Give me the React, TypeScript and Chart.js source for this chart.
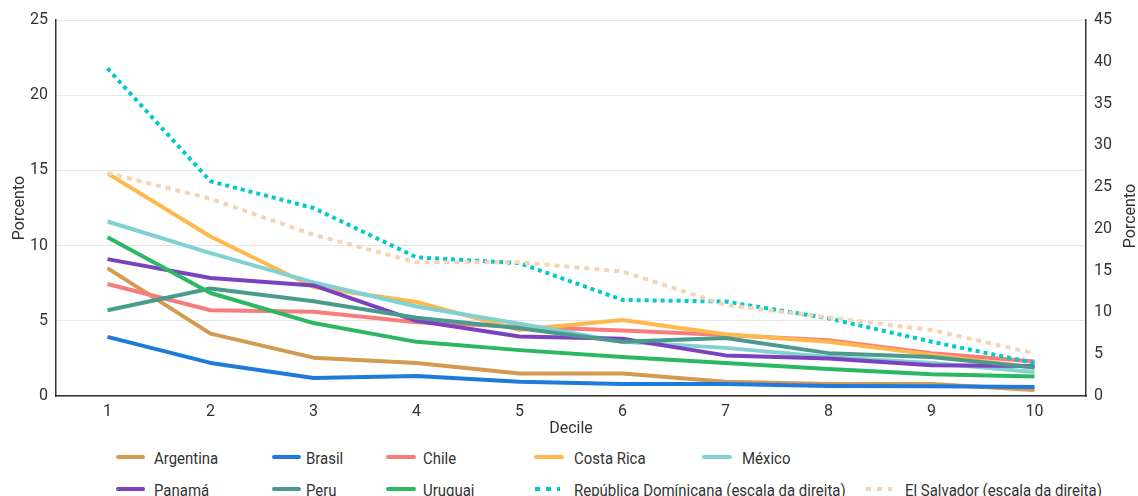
import React, { useEffect, useRef } from 'react';
import { Chart, registerables } from 'chart.js';

Chart.register(...registerables);

if (typeof document !== 'undefined') {
  document.body.style.margin = '0';
}

const FONT = "Roboto, 'DejaVu Sans', sans-serif";

const deciles = ['1', '2', '3', '4', '5', '6', '7', '8', '9', '10'];
const leftTicks = [0, 5, 10, 15, 20, 25];
const rightTicks = [0, 5, 10, 15, 20, 25, 30, 35, 40, 45];

const argentina = [8.5, 4.15, 2.55, 2.2, 1.5, 1.5, 0.95, 0.8, 0.8, 0.4];
const brasil = [3.93, 2.2, 1.2, 1.33, 0.95, 0.8, 0.8, 0.67, 0.65, 0.6];
const chile = [7.45, 5.7, 5.6, 4.9, 4.6, 4.35, 4.05, 3.7, 2.85, 2.3];
const costaRica = [14.8, 10.6, 7.25, 6.25, 4.4, 5.05, 4.1, 3.6, 2.75, 1.9];
const mexico = [11.6, 9.5, 7.55, 5.95, 4.8, 3.6, 3.2, 2.6, 2.2, 1.6];
const panama = [9.1, 7.85, 7.35, 5.0, 3.95, 3.8, 2.7, 2.5, 2.05, 2.0];
const peru = [5.7, 7.15, 6.3, 5.2, 4.5, 3.6, 3.85, 2.85, 2.6, 1.9];
const uruguai = [10.55, 6.85, 4.85, 3.6, 3.05, 2.6, 2.2, 1.8, 1.45, 1.3];
const repDominicana = [39.2, 25.7, 22.5, 16.6, 15.9, 11.5, 11.3, 9.3, 6.5, 3.95];
const elSalvador = [26.7, 23.6, 19.3, 16.0, 16.0, 14.9, 10.9, 9.4, 7.9, 5.1];

type S = { name: string; data: number[]; color: string; right?: boolean; dash?: number[] };

const series: S[] = [
  { name: 'Argentina', data: argentina, color: '#D49A4F' },
  { name: 'Brasil', data: brasil, color: '#1E7BDB' },
  { name: 'Chile', data: chile, color: '#F77C7C' },
  { name: 'Costa Rica', data: costaRica, color: '#FFB84C' },
  { name: 'México', data: mexico, color: '#80D1D1' },
  { name: 'Panamá', data: panama, color: '#7B42C0' },
  { name: 'Peru', data: peru, color: '#4B9B8D' },
  { name: 'Uruguai', data: uruguai, color: '#2AB862' },
  { name: 'República Domínicana (escala da direita)', data: repDominicana, color: '#00CACA', right: true, dash: [4, 4] },
  { name: 'El Salvador (escala da direita)', data: elSalvador, color: '#F5D4B4', right: true, dash: [5, 5] },
];

// legend layout: [lineLeft, lineWidth, textLeft, lineY]
const legendPos: number[][] = [
  [116, 29, 154, 457],
  [272, 29, 306, 457],
  [386, 30, 423, 457],
  [534, 30, 574, 457],
  [702, 30, 742, 457],
  [116, 29, 154, 489],
  [272, 29, 306, 489],
  [386, 30, 423, 489],
  [535, 25, 574, 489],
  [866, 26, 905, 489],
];

const rightTitle = {
  id: 'rightTitle',
  afterDraw(chart: any) {
    const { ctx, chartArea } = chart;
    ctx.save();
    ctx.translate(chart.width - 7, (chartArea.top + chartArea.bottom) / 2 + 8);
    ctx.rotate(-Math.PI / 2);
    ctx.font = `16px ${FONT}`;
    ctx.fillStyle = '#333333';
    ctx.textAlign = 'center';
    ctx.textBaseline = 'middle';
    ctx.fillText('Porcento', 0, 0);
    ctx.restore();
  },
};

export default function App() {
  const ref = useRef<HTMLCanvasElement | null>(null);

  useEffect(() => {
    if (!ref.current) return;
    Chart.defaults.font.family = FONT;
    const n = series.length;
    const chart = new Chart(ref.current, {
      type: 'line',
      data: {
        labels: deciles,
        datasets: series.map((s, i) => ({
          label: s.name,
          data: s.data,
          borderColor: s.color,
          backgroundColor: s.color,
          borderWidth: 4,
          borderDash: s.dash || [],
          borderCapStyle: 'butt',
          borderJoinStyle: 'round',
          pointRadius: 0,
          tension: 0,
          fill: false,
          yAxisID: s.right ? 'y1' : 'y',
          order: n - i,
        })),
      },
      options: {
        responsive: false,
        maintainAspectRatio: false,
        animation: false,
        devicePixelRatio: 1,
        layout: { padding: { top: 20, left: 0, right: 0, bottom: 0 } },
        plugins: { legend: { display: false }, tooltip: { enabled: false } },
        scales: {
          x: {
            type: 'category',
            offset: true,
            grid: { display: false, drawTicks: false },
            border: { display: true, color: '#333333', width: 1.5 },
            ticks: { color: '#333333', font: { size: 16 }, padding: 6, maxRotation: 0 },
            title: { display: true, text: 'Decile', color: '#333333', font: { size: 16 }, padding: { top: 0, bottom: 1 } },
            afterFit: (s: any) => { s.height = 44; },
          },
          y: {
            position: 'left',
            min: 0,
            max: 25,
            afterBuildTicks: (s: any) => { s.ticks = leftTicks.map((v) => ({ value: v })); },
            grid: { color: '#E6E6E6', lineWidth: 1, drawTicks: false },
            border: { display: true, color: '#333333', width: 1.5 },
            ticks: { color: '#333333', font: { size: 16 }, padding: 8 },
            title: { display: true, text: 'Porcento', color: '#333333', font: { size: 16 }, padding: { top: 10, bottom: 0 } },
            afterFit: (s: any) => { s.width = 56; },
          },
          y1: {
            position: 'right',
            min: 0,
            max: 45,
            afterBuildTicks: (s: any) => { s.ticks = rightTicks.map((v) => ({ value: v })); },
            grid: { drawOnChartArea: false, drawTicks: false },
            border: { display: true, color: '#333333', width: 1.5 },
            ticks: { color: '#333333', font: { size: 16 }, padding: 8 },
            afterFit: (s: any) => { s.width = 52; },
          },
        },
      },
      plugins: [rightTitle],
    } as any);
    return () => chart.destroy();
  }, []);

  return (
    <div style={{ position: 'relative', width: 1138, height: 496, overflow: 'hidden', background: '#fff' }}>
      <canvas ref={ref} width={1138} height={440} style={{ position: 'absolute', left: 0, top: 0, width: 1138, height: 440 }} />
      {series.map((s, i) => {
        const [lx, lw, tx, ly] = legendPos[i];
        return (
          <React.Fragment key={s.name}>
            <svg style={{ position: 'absolute', left: lx, top: ly - 4 }} width={lw} height={8}>
              <line
                x1={s.dash ? 0 : 2}
                y1={4}
                x2={s.dash ? lw : lw - 2}
                y2={4}
                stroke={s.color}
                strokeWidth={4}
                strokeLinecap={s.dash ? 'butt' : 'round'}
                strokeDasharray={s.dash ? '5 6' : undefined}
              />
            </svg>
            <span
              style={{
                position: 'absolute',
                left: tx,
                top: ly - 9,
                fontFamily: FONT,
                fontSize: 17,
                lineHeight: '20px',
                color: '#333333',
                whiteSpace: 'nowrap',
                transform: 'scaleX(0.88)',
                transformOrigin: 'left center',
              }}
            >
              {s.name}
            </span>
          </React.Fragment>
        );
      })}
    </div>
  );
}
